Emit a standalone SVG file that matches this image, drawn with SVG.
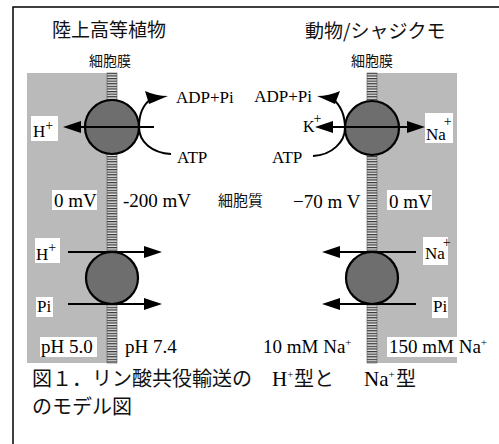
<svg xmlns="http://www.w3.org/2000/svg" width="499" height="444" viewBox="0 0 499 444">
<defs>
<style>
.jp{font-family:"Noto Sans CJK JP","Noto Sans",sans-serif;fill:#111}
.sr{font-family:"Liberation Serif","Times New Roman",serif;fill:#000}
.box{fill:#fff}
.gray{fill:#bababa}
.pump{fill:#6e6e6e;stroke:#000;stroke-width:2.2}
.ln{stroke:#000;stroke-width:2;fill:none}
.hd{fill:#000}
.sup{font-size:14px}
</style>
<pattern id="stripes" width="10" height="2.6" patternUnits="userSpaceOnUse">
<rect width="10" height="2.6" fill="#e6e6e6"/>
<rect width="10" height="1.2" fill="#333"/>
</pattern>
</defs>
<rect width="499" height="444" fill="#fff"/>
<g id="frame">
<path d="M13 444 V7 H499" fill="none" stroke="#000" stroke-width="1.5"/>
</g>
<g id="regions">
<rect class="gray" x="27" y="73" width="80" height="290"/>
<rect class="gray" x="377" y="73" width="80" height="290"/>
</g>
<g id="membranes">
<rect x="107" y="73" width="10" height="290" fill="url(#stripes)" stroke="#555" stroke-width="0.6"/>
<rect x="367" y="73" width="10" height="290" fill="url(#stripes)" stroke="#555" stroke-width="0.6"/>
</g>
<g id="pumps">
<circle id="pump-h-atpase" class="pump" cx="112" cy="127" r="27"/>
<circle id="pump-na-k" class="pump" cx="372" cy="128" r="27"/>
<circle id="cotransporter-h" class="pump" cx="112" cy="278" r="26"/>
<circle id="cotransporter-na" class="pump" cx="372" cy="278" r="26"/>
</g>
<g id="connectors">
<line class="ln" x1="154" y1="127" x2="78" y2="127"/>
<polygon class="hd" points="63,127 81,121 81,133"/>
<path class="ln" stroke-width="2.4" d="M171 154 C152 153 139 142 139 127 C139 113 144 104 151 99"/>
<path class="hd" d="M145 91 Q156 96 168 96 L149 104 Z"/>
<line class="ln" x1="330" y1="127" x2="410" y2="127"/>
<polygon class="hd" points="315,127 333,121 333,133"/>
<polygon class="hd" points="425,127 407,121 407,133"/>
<path class="ln" stroke-width="2.4" d="M313 156 C332 155 345 142 345 128 C345 114 340 105 333 99"/>
<path class="hd" d="M340 91 Q329 96 317 96 L335 104 Z"/>
<line class="ln" x1="68" y1="252" x2="147" y2="252"/>
<polygon class="hd" points="162,252 144,246 144,258"/>
<line class="ln" x1="68" y1="304" x2="147" y2="304"/>
<polygon class="hd" points="162,304 144,298 144,310"/>
<line class="ln" x1="337" y1="252" x2="416" y2="252"/>
<polygon class="hd" points="322,252 340,246 340,258"/>
<line class="ln" x1="337" y1="304" x2="416" y2="304"/>
<polygon class="hd" points="322,304 340,298 340,310"/>
</g>
<g id="label-boxes">
<rect class="box" x="31" y="116" width="27" height="25"/>
<rect class="box" x="52" y="190" width="45" height="20"/>
<rect class="box" x="35" y="238" width="25" height="25"/>
<rect class="box" x="36" y="297" width="17" height="20"/>
<rect class="box" x="40" y="337" width="57" height="20"/>
<rect class="box" x="425" y="113" width="28" height="30"/>
<rect class="box" x="387" y="190" width="45" height="20"/>
<rect class="box" x="423" y="237" width="25" height="28"/>
<rect class="box" x="432" y="297" width="16" height="21"/>
<rect class="box" x="387" y="337" width="112" height="20"/>
</g>
<g id="titles">
<text class="jp" x="52" y="37" font-size="19">陸上高等植物</text>
<text class="jp" x="305" y="38" font-size="19">動物/シャジクモ</text>
<text class="jp" x="110" y="66" font-size="14" text-anchor="middle">細胞膜</text>
<text class="jp" x="372" y="66" font-size="14" text-anchor="middle">細胞膜</text>
<text class="jp" x="218" y="206" font-size="15" fill="#333">細胞質</text>
</g>
<g id="labels-left">
<text class="sr" x="176" y="103" font-size="17">ADP+Pi</text>
<text class="sr" x="177" y="163" font-size="17">ATP</text>
<text class="sr" x="33" y="137" font-size="17">H<tspan class="sup" dy="-7">+</tspan></text>
<text class="sr" x="54" y="207" font-size="19">0 mV</text>
<text class="sr" x="123" y="207" font-size="19">-200 mV</text>
<text class="sr" x="36" y="260" font-size="17">H<tspan class="sup" dy="-8">+</tspan></text>
<text class="sr" x="37" y="312" font-size="17">Pi</text>
<text class="sr" x="41" y="353" font-size="19">pH 5.0</text>
<text class="sr" x="125" y="353" font-size="19">pH 7.4</text>
</g>
<g id="labels-right">
<text class="sr" x="312" y="102" font-size="17" text-anchor="end">ADP+Pi</text>
<text class="sr" x="272" y="163" font-size="17">ATP</text>
<text class="sr" x="303" y="132" font-size="16">K<tspan class="sup" dx="-1" dy="-9">+</tspan></text>
<text class="sr" x="426" y="140" font-size="17">Na<tspan class="sup" dx="-2" dy="-14">+</tspan></text>
<text class="sr" x="293" y="208" font-size="19">−70 m V</text>
<text class="sr" x="389" y="208" font-size="19">0 mV</text>
<text class="sr" x="425" y="259" font-size="17">Na<tspan class="sup" dx="-2" dy="-12">+</tspan></text>
<text class="sr" x="433" y="312" font-size="17">Pi</text>
<text class="sr" x="263" y="353" font-size="19">10 mM Na<tspan font-size="11" dy="-7">+</tspan></text>
<text class="sr" x="389" y="353" font-size="19">150 mM Na<tspan font-size="11" dy="-7">+</tspan></text>
</g>
<g id="caption">
<text class="jp" x="32" y="386" font-size="20" fill="#000">図１．リン酸共役輸送の</text>
<text class="sr" x="272" y="386" font-size="21">H<tspan font-size="11" dy="-8">+</tspan></text>
<text class="jp" x="294" y="386" font-size="20" fill="#000">型と</text>
<text class="sr" x="364" y="386" font-size="21">Na<tspan font-size="11" dy="-8">+</tspan></text>
<text class="jp" x="396" y="386" font-size="20" fill="#000">型</text>
<text class="jp" x="32" y="414" font-size="20" fill="#000">のモデル図</text>
</g>
</svg>
